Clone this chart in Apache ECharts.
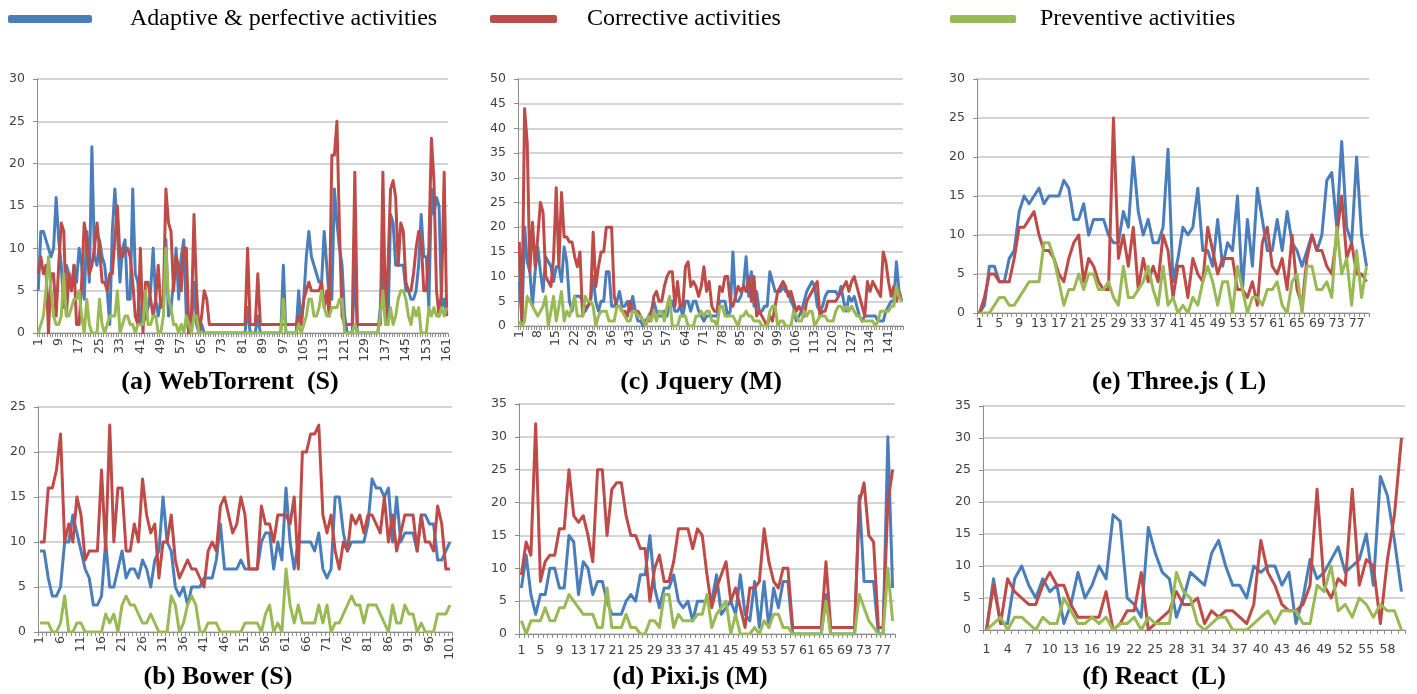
<!DOCTYPE html>
<html><head><meta charset="utf-8">
<script src="https://cdn.jsdelivr.net/npm/echarts@6.0.0/dist/echarts.min.js"></script>
<style>html,body{margin:0;padding:0;background:#fff}#c{width:1417px;height:694px}</style>
</head><body><div id="c"></div>
<script>
const seriesNames = ['Adaptive & perfective activities', 'Corrective activities', 'Preventive activities'];
const panelTitles = ['(a) WebTorrent  (S)', '(b) Bower (S)', '(c) Jquery (M)', '(d) Pixi.js (M)', '(e) Three.js ( L)', '(f) React  (L)'];

// (a) WebTorrent
const webTorrentAdaptive = [
5,12,12,11,10,9,10,16,11,8,
3,8,7,5,8,6,10,8,4,12,
6,22,9,8,11,9,8,5,1,12,
17,12,6,10,11,4,4,17,7,6,
1,1,2,3,5,10,4,2,4,3,
11,2,3,6,10,4,9,11,2,0,
1,6,1,0,1,0,0,0,0,0,
0,0,0,0,0,0,0,0,0,0,
0,0,3,0,0,0,2,0,0,0,
0,0,0,0,0,0,8,0,0,0,
0,0,5,1,4,9,12,9,8,7,
6,6,12,8,4,4,17,13,10,8,
2,0,0,0,8,0,0,0,0,0,
0,0,0,0,3,8,2,1,14,13,
8,8,8,8,5,5,4,4,5,8,
14,9,9,3,17,14,16,15,3,4,
2];
const webTorrentCorrective = [
7,9,7,8,0,7,7,2,8,13,
12,2,7,5,8,1,1,6,13,11,
7,8,10,13,10,6,6,5,7,7,
11,15,9,9,10,10,9,6,2,1,
10,0,6,6,4,2,4,8,3,4,
17,13,12,5,9,8,5,10,10,0,
2,14,5,0,2,5,4,1,1,1,
1,1,1,1,1,1,1,1,1,1,
1,1,10,1,1,1,7,1,1,1,
1,1,1,1,1,1,1,1,1,1,
1,1,2,1,4,5,6,5,5,5,
5,6,3,5,2,21,21,25,12,2,
1,1,1,1,19,1,1,1,1,1,
1,1,1,1,1,19,2,8,17,18,
16,8,13,12,6,5,5,7,10,12,
11,5,5,10,23,18,5,2,5,19,
2];
const webTorrentPreventive = [
0,1,2,5,9,5,2,1,1,2,
7,2,2,3,4,4,5,2,0,4,
1,0,0,0,4,1,0,1,2,2,
2,5,0,1,2,2,1,1,0,1,
1,1,5,1,1,2,2,0,0,2,
10,4,3,1,1,0,1,0,2,1,
0,2,2,0,0,0,0,0,0,0,
0,0,0,0,0,0,0,0,0,0,
0,0,0,0,0,0,0,0,0,0,
0,0,0,0,0,0,4,0,0,0,
0,0,1,0,1,2,4,4,2,2,
3,5,3,2,2,3,3,3,4,4,
0,0,0,0,1,0,0,0,0,0,
0,0,0,0,2,5,1,1,3,1,
2,4,5,5,4,2,1,3,2,3,
0,0,0,3,2,3,2,2,3,2,
3];

// (b) Bower
const bowerAdaptive = [
9,9,6,4,4,5,10,10,13,11,
9,7,6,3,3,4,10,5,5,7,
9,6,7,7,6,8,7,5,8,9,
15,10,9,5,4,5,3,5,5,5,
6,6,6,8,12,7,7,7,7,8,
7,7,7,7,10,11,11,7,10,8,
16,10,7,10,10,10,10,9,11,7,
6,7,15,15,11,9,10,10,10,10,
12,17,16,16,15,16,10,15,10,11,
11,11,9,13,13,12,12,8,8,9,
10];
const bowerCorrective = [
10,10,16,16,18,22,10,12,10,15,
13,8,9,9,9,18,9,23,10,16,
16,9,9,12,10,17,13,11,12,6,
10,10,13,8,6,7,8,7,7,6,
5,9,10,9,14,15,13,11,12,15,
13,7,7,7,14,12,12,10,13,13,
13,12,15,7,20,20,22,22,23,13,
11,13,9,7,10,9,13,12,13,11,
13,13,12,11,15,10,13,9,11,13,
13,13,9,13,10,10,9,14,12,7,
7];
const bowerPreventive = [
1,1,1,0,0,1,4,0,0,1,
1,0,0,0,0,0,2,1,2,0,
3,4,3,3,2,1,1,2,1,0,
0,0,4,3,0,1,3,4,3,0,
0,1,1,1,0,0,0,0,0,0,
1,1,1,1,0,2,3,0,1,0,
7,3,1,3,1,1,1,1,3,1,
3,0,1,1,2,3,4,3,3,1,
3,3,3,2,1,0,3,1,1,3,
2,2,0,1,0,0,0,2,2,2,
3];

// (c) Jquery
const jqueryAdaptive = [
9,1,20,13,11,4,11,16,11,7,
14,13,12,9,12,12,9,16,13,5,
3,6,6,6,5,3,4,5,10,5,
3,5,5,11,11,4,4,5,7,4,
4,5,3,6,3,1,1,0,1,2,
3,5,3,2,2,3,2,5,5,3,
3,4,2,5,5,3,5,5,3,
2,1,2,2,2,2,2,5,5,5,
2,3,15,5,5,6,8,14,6,11,
4,7,3,3,4,4,11,9,7,7,
7,8,7,7,5,4,1,2,3,5,
7,8,9,8,4,3,4,6,7,7,
7,7,6,8,5,3,6,5,6,4,
2,1,2,2,2,2,2,1,1,1,
3,4,5,5,13,7,5];
const jqueryCorrective = [
17,1,44,37,11,21,12,18,25,23,
10,9,8,14,28,12,27,18,18,17,
17,14,12,15,2,4,4,5,19,8,
12,15,15,20,20,20,6,4,4,3,
3,2,5,3,3,3,2,1,1,1,
2,6,7,5,5,8,10,11,11,4,
9,4,4,12,13,8,9,8,6,
8,12,7,9,4,3,3,8,7,10,
10,5,4,6,8,7,8,7,10,5,
10,2,3,2,1,0,2,1,4,7,
8,9,8,6,7,5,3,4,3,2,
5,6,7,8,9,2,3,3,5,5,
5,5,6,7,8,9,7,9,10,8,
6,4,2,9,7,9,8,7,6,15,
13,9,6,8,5,7,5];
const jqueryPreventive = [
1,0,1,6,5,4,3,2,3,4,
6,0,3,6,1,4,7,1,3,2,
4,6,2,2,2,6,5,5,4,0,
2,3,3,3,1,1,1,4,4,3,
2,1,1,3,3,2,2,1,0,2,
1,3,1,3,3,1,4,6,0,0,
0,2,2,2,0,0,0,2,2,
3,2,3,3,1,1,0,4,4,2,
2,2,2,1,0,2,2,3,2,2,
1,1,1,0,0,0,3,4,4,0,
1,1,0,0,0,3,2,1,1,3,
2,3,3,0,1,2,2,2,1,1,
1,3,4,4,3,4,3,4,3,2,
2,1,1,1,1,1,0,1,3,3,
3,3,4,4,8,6,5];

// (d) Pixi.js
const pixiAdaptive = [
7,12,6,3,6,6,10,10,7,7,
15,14,6,11,10,6,8,8,5,3,
3,3,5,6,5,9,9,15,7,4,
7,7,9,5,4,5,2,5,5,5,
5,9,3,4,5,3,9,3,2,8,
1,8,1,7,4,8,8,0,0,0,
0,0,0,0,6,0,0,0,0,0,
0,21,8,8,8,0,0,30,7];
const pixiCorrective = [
9,14,12,32,8,11,12,12,16,16,
25,18,17,18,15,11,25,25,15,22,
23,23,18,15,15,13,13,5,10,12,
8,8,11,16,16,16,13,16,15,9,
4,7,9,11,5,7,4,1,7,7,
8,16,11,8,7,10,10,1,1,1,
1,1,1,1,11,1,1,1,1,1,
1,20,23,15,14,1,1,20,25];
const pixiPreventive = [
2,0,2,2,2,4,2,2,4,4,
6,5,4,3,3,3,1,1,7,1,
1,1,3,1,1,0,0,2,2,1,
6,6,1,3,2,2,2,3,3,6,
1,3,4,5,0,3,0,0,0,1,
0,2,1,3,3,1,1,0,0,0,
0,0,0,0,5,0,0,0,0,0,
0,6,4,2,1,0,0,10,2];

// (e) Three.js
const threeAdaptive = [
0,1,6,6,4,4,7,8,13,15,
14,15,16,14,15,15,15,17,16,12,
12,14,10,12,12,12,10,9,9,13,
11,20,13,10,12,9,9,11,21,4,
7,11,10,11,16,8,8,6,12,6,
9,8,15,3,12,6,16,12,8,8,
12,8,13,9,8,6,8,10,8,10,
17,18,11,22,11,9,20,10,6];
const threeCorrective = [
0,2,5,5,4,4,4,7,11,11,
12,13,10,8,8,7,5,4,7,9,
10,4,7,6,4,3,3,25,7,10,
6,11,3,7,4,6,4,10,8,2,
6,6,2,7,5,4,11,8,5,7,
7,7,3,3,2,4,1,9,11,6,
5,7,3,10,3,1,7,10,8,8,
6,5,10,15,7,9,5,5,4];
const threePreventive = [
0,0,0,1,2,2,1,1,2,3,
4,4,4,9,9,7,4,1,3,3,
5,3,5,5,3,3,4,2,1,6,
2,2,3,4,6,3,1,6,1,2,
0,1,0,2,1,4,6,4,1,4,
4,0,6,3,0,2,2,1,3,3,
4,1,0,4,5,0,6,6,3,3,
4,2,11,5,7,1,8,2,6];

// (f) React
const reactAdaptive = [
0,8,1,1,8,10,7,5,8,6,
7,1,4,9,5,7,10,8,18,17,
5,4,2,16,12,9,8,2,5,9,
8,7,12,14,10,7,7,5,10,9,
10,10,7,9,1,5,11,8,9,11,
13,9,10,11,15,7,24,21,14,6];
const reactCorrective = [
0,7,1,8,6,5,4,4,7,9,
7,7,4,2,2,2,2,6,0,1,
3,3,9,0,1,2,3,6,4,4,
5,1,3,2,3,3,2,1,4,14,
9,7,4,3,3,4,7,22,7,5,
8,7,22,7,11,10,1,11,18,30];
const reactPreventive = [
0,1,2,0,2,2,1,0,2,1,
1,5,3,1,1,2,1,2,0,1,
1,2,0,2,1,1,1,9,6,5,
1,0,1,2,2,0,0,0,1,2,
3,1,3,3,3,1,1,7,6,10,
3,4,2,5,4,2,4,3,3,0];

const yMaxima = [30, 25, 50, 35, 30, 35];

// ---- layout / style (not data) ----
const colors = ['#4a7ebb', '#be4b48', '#98b954'];
const panels = [
  { title: panelTitles[0], data: [webTorrentAdaptive, webTorrentCorrective, webTorrentPreventive], yMax: yMaxima[0],
    grid: { left: 37, top: 79, width: 411, height: 254 }, lblInt: 7, rot: 90, lblMargin: 5, tx: 230, ty: 369 },
  { title: panelTitles[1], data: [bowerAdaptive, bowerCorrective, bowerPreventive], yMax: yMaxima[1],
    grid: { left: 38, top: 407, width: 414, height: 225 }, lblInt: 4, rot: 90, lblMargin: 4, tx: 218, ty: 664 },
  { title: panelTitles[2], data: [jqueryAdaptive, jqueryCorrective, jqueryPreventive], yMax: yMaxima[2],
    grid: { left: 518, top: 79, width: 385, height: 247 }, lblInt: 6, rot: 90, lblMargin: 4, tx: 701, ty: 369 },
  { title: panelTitles[3], data: [pixiAdaptive, pixiCorrective, pixiPreventive], yMax: yMaxima[3],
    grid: { left: 519, top: 404, width: 376, height: 230 }, lblInt: 3, rot: 0, lblMargin: 10, tx: 690, ty: 664 },
  { title: panelTitles[4], data: [threeAdaptive, threeCorrective, threePreventive], yMax: yMaxima[4],
    grid: { left: 977, top: 79, width: 392, height: 234 }, lblInt: 3, rot: 0, lblMargin: 4, tx: 1179, ty: 369 },
  { title: panelTitles[5], data: [reactAdaptive, reactCorrective, reactPreventive], yMax: yMaxima[5],
    grid: { left: 983, top: 406, width: 422, height: 224 }, lblInt: 2, rot: 0, lblMargin: 13, tx: 1154, ty: 664 }
];

const labelFont = 'DejaVu Sans';
const grids = [], xAxes = [], yAxes = [], series = [], titles = [];
panels.forEach((p, i) => {
  const n = p.data[0].length;
  const cats = [];
  for (let k = 1; k <= n; k++) cats.push(String(k));
  grids.push(Object.assign({ containLabel: false }, p.grid));
  xAxes.push({
    type: 'category', gridIndex: i, data: cats, boundaryGap: true,
    axisLine: { lineStyle: { color: '#8c8c8c', width: 1 } },
    axisTick: { show: true, interval: 0, length: 4, lineStyle: { color: '#8c8c8c' } },
    axisLabel: { interval: p.lblInt, rotate: p.rot, margin: p.lblMargin, color: '#404040',
                 fontSize: 12.5, fontFamily: labelFont },
    splitLine: { show: false }
  });
  yAxes.push({
    type: 'value', gridIndex: i, min: 0, max: p.yMax, interval: 5,
    axisLine: { show: true, lineStyle: { color: '#8c8c8c', width: 1 } },
    axisTick: { show: true, length: 4, lineStyle: { color: '#8c8c8c' } },
    axisLabel: { margin: 12, color: '#404040', fontSize: 12.5, fontFamily: labelFont },
    splitLine: { show: true, lineStyle: { color: '#c6c6c6', width: 1.5 } }
  });
  p.data.forEach((arr, s) => {
    series.push({
      name: seriesNames[s], type: 'line', xAxisIndex: i, yAxisIndex: i, data: arr,
      showSymbol: false, symbol: 'none', animation: false,
      lineStyle: { color: colors[s], width: 3, join: 'round' }, itemStyle: { color: colors[s] },
      z: 2 + s
    });
  });
  titles.push({
    text: p.title, left: p.tx, top: p.ty, textAlign: 'center', padding: 0,
    textStyle: { fontFamily: 'Liberation Serif', fontWeight: 'bold', fontSize: 26, color: '#000' }
  });
});

const legendText = { fontFamily: 'Liberation Serif', fontSize: 24, color: '#000' };
const legends = [
  { data: [seriesNames[0]], left: 8, itemWidth: 84, pad: 33 },
  { data: [seriesNames[1]], left: 490, itemWidth: 67, pad: 25 },
  { data: [seriesNames[2]], left: 950, itemWidth: 66, pad: 19 }
].map(l => ({
  data: l.data, left: l.left, top: 7, itemWidth: l.itemWidth, itemHeight: 8, icon: 'roundRect',
  selectedMode: false, padding: 0,
  textStyle: Object.assign({ padding: [0, 0, 0, l.pad] }, legendText)
}));

const chart = echarts.init(document.getElementById('c'), null, { renderer: 'canvas' });
chart.setOption({
  backgroundColor: '#fff',
  animation: false,
  title: titles,
  legend: legends,
  grid: grids,
  xAxis: xAxes,
  yAxis: yAxes,
  series: series
});
</script>
</body></html>
